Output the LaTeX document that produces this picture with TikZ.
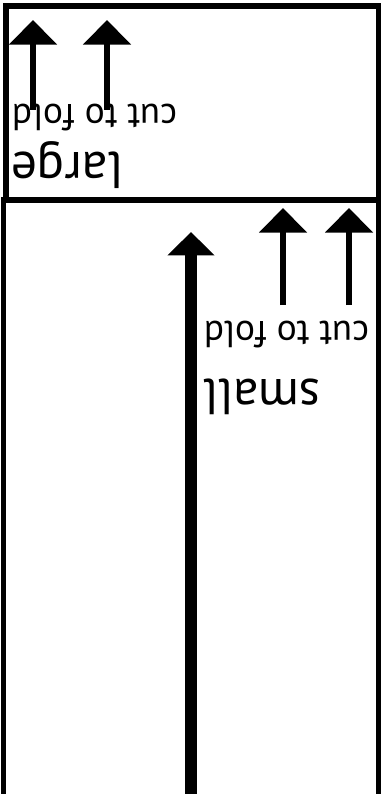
\documentclass[tikz,border=0pt]{standalone}
\usepackage{fontspec}
\setmainfont{PT Sans}
\usepackage{tikz}
\usetikzlibrary{arrows.meta}

\begin{document}
\begin{tikzpicture}[
  x=0.03cm, y=-0.03cm,
  frame/.style={draw=black,line width=5pt},
  cutarrow/.style={line width=4.8pt,-{Triangle[length=21pt,width=40pt]}},
  mainarrow/.style={line width=9.4pt,-{Triangle[length=20pt,width=39pt]}},
  lbl/.style={rotate=180,inner sep=0pt,anchor=center}
]
\clip (0,0) rectangle (382,794);
\fill[white] (0,0) rectangle (382,794);
% panels
\draw[frame] (6,6) rectangle (378.5,200);
\draw[frame] (3.5,200) rectangle (378.5,830);
% labels
\node[lbl,font=\fontsize{32}{32}\selectfont] (cutL) at (94.5,118) {cut to fold};
\node[lbl,font=\fontsize{44}{44}\selectfont] (large) at (67,165) {large};
\node[lbl,font=\fontsize{32}{32}\selectfont] (cutS) at (286.5,335) {cut to fold};
\node[lbl,font=\fontsize{43}{43}\selectfont] (small) at (262.5,397) {small};
% arrow ends
\coordinate (aL1) at (33,110);   \coordinate (tL1) at (33,20);
\coordinate (aL2) at (107,110);  \coordinate (tL2) at (107,20);
\coordinate (aS1) at (283,305);  \coordinate (tS1) at (283,208);
\coordinate (aS2) at (349,305);  \coordinate (tS2) at (349,208);
\coordinate (aM) at (191,810);   \coordinate (tM) at (191,232);
\foreach \a/\t in {aL1/tL1, aL2/tL2, aS1/tS1, aS2/tS2}
  { \draw[cutarrow] (\a) -- (\t); }
\draw[mainarrow] (aM) -- (tM);
\end{tikzpicture}
\end{document}
